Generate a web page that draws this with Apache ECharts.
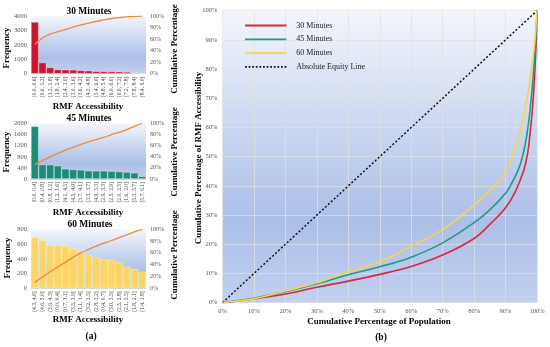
<!DOCTYPE html>
<html><head><meta charset="utf-8">
<script src="https://cdn.jsdelivr.net/npm/echarts@6/dist/echarts.min.js"></script>
<style>html,body{margin:0;padding:0;background:#fff}#c{width:550px;height:347px}</style>
</head><body><div id="c"></div>
<script>
// ---- Panel (a): Pareto charts ----
const cats30 = ['[0.0, 0.6]','(0.6, 1.2]','(1.2, 1.8]','(1.8, 2.4]','(2.4, 3.0]','(3.0, 3.6]','(3.6, 4.2]','(4.2, 4.8]','(5.4, 6.0]','(4.8, 5.4]','(6.0, 6.6]','(6.6, 7.2]','(7.2, 7.8]','(7.8, 8.4]','(8.4, 9.0]'];
const freq30 = [3600, 780, 430, 290, 280, 270, 230, 210, 170, 160, 150, 140, 120, 80, 15];
const cum30 = [51, 62, 69, 73, 77, 81, 85, 88, 91, 93.5, 96, 97.5, 99, 99.8, 100];

const cats45 = ['[0.0, 0.4]','(0.4, 0.8]','(0.8, 1.2]','(1.2, 1.6]','(4.1, 4.5]','(4.5, 4.9]','(3.7, 4.1]','(3.3, 3.7]','(4.9, 5.3]','(2.9, 3.3]','(2.5, 2.9]','(2.0, 2.5]','(1.6, 2.0]','(5.3, 5.7]','(5.7, 6.1]'];
const freq45 = [1900, 520, 515, 480, 370, 345, 330, 300, 295, 295, 285, 270, 250, 225, 95];
const cum45 = [26, 33, 40, 46, 52, 57, 62, 67, 71, 75, 80, 84, 89, 95, 100];

const cats60 = ['(4.3, 4.6]','(4.6, 5.0]','(3.9, 4.3]','[0.0, 0.4]','(0.7, 1.1]','(3.5, 3.9]','(1.1, 1.4]','(3.2, 3.5]','(2.8, 3.2]','(0.4, 0.7]','(3.0, 3.5]','(2.5, 2.8]','(2.1, 2.5]','(1.8, 2.1]','(1.4, 1.8]'];
const freq60 = [690, 650, 590, 580, 575, 540, 510, 445, 415, 395, 385, 355, 295, 260, 225];
const cum60 = [10, 19, 28, 36, 44.5, 52.5, 60, 66, 71.5, 76.5, 81, 86, 90.5, 95.5, 100];

// ---- Panel (b): Lorenz curves (x = % population, y = % accessibility) ----
const lx30 = [0, 5, 10, 20, 30, 40, 50, 60, 70, 80, 85, 90, 93, 95.8, 97, 97.8, 98.6, 99.4, 99.8, 100];
const ly30 = [0, 0.6, 1.3, 3.0, 5.3, 7.4, 9.7, 12.4, 16.3, 22, 26.8, 32.5, 37.8, 45.4, 51, 58, 67, 81, 91, 100];
const lx45 = [0, 5, 10, 20, 30, 40, 50, 60, 70, 80, 85, 90, 92, 94, 95.5, 96.7, 97.8, 99, 99.6, 100];
const ly45 = [0, 0.7, 1.5, 3.8, 6.5, 9.6, 12.3, 15.6, 20.5, 27.4, 31.8, 37.5, 41, 45.4, 50.5, 57, 66, 80.5, 90, 100];
const lx60 = [0, 5, 10, 20, 30, 40, 50, 60, 70, 80, 85, 88, 90.4, 92.5, 94.4, 96.7, 98.3, 99.3, 100];
const ly60 = [0, 0.6, 1.3, 4, 6.8, 10.6, 14, 19.4, 25, 33.5, 38.3, 41.8, 45.4, 51, 57.5, 69, 80.5, 89.5, 100];
const eqX = [0, 100];
const eqY = [0, 100];

const seriesNames = ['30 Minutes', '45 Minutes', '60 Minutes', 'Absolute Equity Line'];

const FONT = '"Liberation Serif", "Times New Roman", serif';
const chart = echarts.init(document.getElementById('c'), null, {renderer: 'canvas'});
const bg = () => new echarts.graphic.LinearGradient(0, 0, 0, 1, [
  {offset: 0, color: '#f3f5fb'}, {offset: 0.72, color: '#abbfe8'}, {offset: 1, color: '#c2d0ef'}
]);
const zip = (a, b) => a.map((v, i) => [v, b[i]]);

const grids = [
  {left: 31, top: 16.2, width: 115, height: 57.5},
  {left: 31, top: 123.5, width: 115, height: 55.5},
  {left: 31, top: 229.3, width: 115, height: 59},
  {left: 222.5, top: 10.7, width: 314.5, height: 292}
].map(g => Object.assign({show: true, borderWidth: 0, backgroundColor: bg(), containLabel: false}, g));

const tickLbl = {fontFamily: FONT, fontSize: 6.5, color: '#555'};
function catAxis(gi, cats) {
  return {type: 'category', gridIndex: gi, data: cats,
    axisLine: {show: true, lineStyle: {color: '#bbb', width: 0.6}}, axisTick: {show: false},
    axisLabel: {interval: 0, rotate: 90, fontFamily: FONT, fontSize: 5.6, color: '#444', margin: 3}};
}
function leftAxis(gi, max, interval) {
  return {type: 'value', gridIndex: gi, min: 0, max: max, interval: interval, position: 'left',
    axisLine: {show: false}, axisTick: {show: false}, splitLine: {show: false},
    axisLabel: Object.assign({margin: 4, formatter: v => String(v)}, tickLbl)};
}
function rightAxis(gi) {
  return {type: 'value', gridIndex: gi, min: 0, max: 100, interval: 20, position: 'right',
    axisLine: {show: false}, axisTick: {show: false}, splitLine: {show: false},
    axisLabel: Object.assign({margin: 4, formatter: '{value}%'}, tickLbl, {fontSize: 6})};
}
function barSeries(ai, yi, data, color, alt) {
  return {type: 'bar', xAxisIndex: ai, yAxisIndex: yi, data: data, barCategoryGap: '0%',
    itemStyle: {color: alt ? (p => p.dataIndex === 13 ? alt : color) : color, borderColor: 'rgba(255,255,255,0.55)', borderWidth: 0.6},
    silent: true, animation: false};
}
function cumSeries(ai, yi, data) {
  return {type: 'line', xAxisIndex: ai, yAxisIndex: yi, data: data, smooth: true, symbol: 'none',
    lineStyle: {color: '#ef8a34', width: 1.3}, animation: false, silent: true};
}
function lorenz(name, x, y, color) {
  return {name: name, type: 'line', xAxisIndex: 3, yAxisIndex: 6, data: zip(x, y), smooth: 0.4,
    symbol: 'none', lineStyle: {color: color, width: 1.6}, itemStyle: {color: color}, animation: false, z: 5};
}

const txt = (x, y, text, size, opts) => Object.assign({type: 'text', x: x, y: y, silent: true, z: 100,
  style: {text: text, font: 'bold ' + size + 'px ' + FONT, fill: '#000', textAlign: 'center', textVerticalAlign: 'middle'}}, opts || {});
const vtxt = (x, y, text, size) => txt(x, y, text, size, {rotation: Math.PI / 2});

const solidIcon = 'path://M0,0h46v2h-46z';
const dotIcon = 'path://' + Array.from({length: 12}, (_, i) => 'M' + (i * 4) + ',0h2v2h-2z').join('');

const option = {
  animation: false,
  grid: grids,
  legend: {
    data: [
      {name: seriesNames[0], icon: solidIcon},
      {name: seriesNames[1], icon: solidIcon},
      {name: seriesNames[2], icon: solidIcon},
      {name: seriesNames[3], icon: dotIcon}
    ],
    orient: 'vertical', left: 245, top: 21.5, padding: 0, itemWidth: 45, itemHeight: 1.8, itemGap: 5.8,
    textStyle: {fontFamily: FONT, fontSize: 8, color: '#222', padding: [0, 0, 0, 3]}, selectedMode: false
  },
  xAxis: [
    catAxis(0, cats30), catAxis(1, cats45), catAxis(2, cats60),
    {type: 'value', gridIndex: 3, min: 0, max: 100, interval: 10,
      axisLine: {show: false}, axisTick: {show: false},
      splitLine: {show: true, lineStyle: {color: 'rgba(225,225,225,0.9)', width: 0.8}},
      axisLabel: Object.assign({margin: 5, formatter: '{value}%'}, tickLbl)}
  ],
  yAxis: [
    leftAxis(0, 4000, 1000), rightAxis(0),
    leftAxis(1, 2000, 400), rightAxis(1),
    leftAxis(2, 800, 200), rightAxis(2),
    {type: 'value', gridIndex: 3, min: 0, max: 100, interval: 10,
      axisLine: {show: false}, axisTick: {show: false},
      splitLine: {show: true, lineStyle: {color: 'rgba(225,225,225,0.9)', width: 0.8}},
      axisLabel: Object.assign({margin: 5, formatter: '{value}%'}, tickLbl)}
  ],
  series: [
    barSeries(0, 0, freq30, '#c8182f', '#d98ca2'), cumSeries(0, 1, cum30),
    barSeries(1, 2, freq45, '#1c8c78'), cumSeries(1, 3, cum45),
    barSeries(2, 4, freq60, '#fdd562'), cumSeries(2, 5, cum60),
    lorenz(seriesNames[0], lx30, ly30, '#d42a3c'),
    lorenz(seriesNames[1], lx45, ly45, '#1f9a86'),
    lorenz(seriesNames[2], lx60, ly60, '#f8d250'),
    {name: seriesNames[3], type: 'line', xAxisIndex: 3, yAxisIndex: 6, data: zip(eqX, eqY), symbol: 'none',
      lineStyle: {color: '#111', width: 1.5, type: [2, 2]}, itemStyle: {color: '#111'}, animation: false, z: 4}
  ],
  graphic: [
    txt(89, 12, '30 Minutes', 9.5),
    txt(89, 118.5, '45 Minutes', 9.5),
    txt(90, 225, '60 Minutes', 9.5),
    txt(88, 106.5, 'RMF Accessibility', 9),
    txt(88, 213, 'RMF Accessibility', 9),
    txt(88, 320, 'RMF Accessibility', 9),
    vtxt(7, 48, 'Frequency', 9),
    vtxt(7, 152, 'Frequency', 9),
    vtxt(8, 258, 'Frequency', 9),
    vtxt(175, 49, 'Cumulative Percentage', 9),
    vtxt(175, 152, 'Cumulative Percentage', 9),
    vtxt(175, 255, 'Cumulative Percentage', 9),
    vtxt(199, 158, 'Cumulative Percentage of RMF Accessibility', 9),
    txt(379, 322, 'Cumulative Percentage of Population', 9),
    txt(91, 337, '(a)', 9.5),
    txt(381, 338, '(b)', 9.5)
  ]
};
chart.setOption(option);
</script>
</body></html>
